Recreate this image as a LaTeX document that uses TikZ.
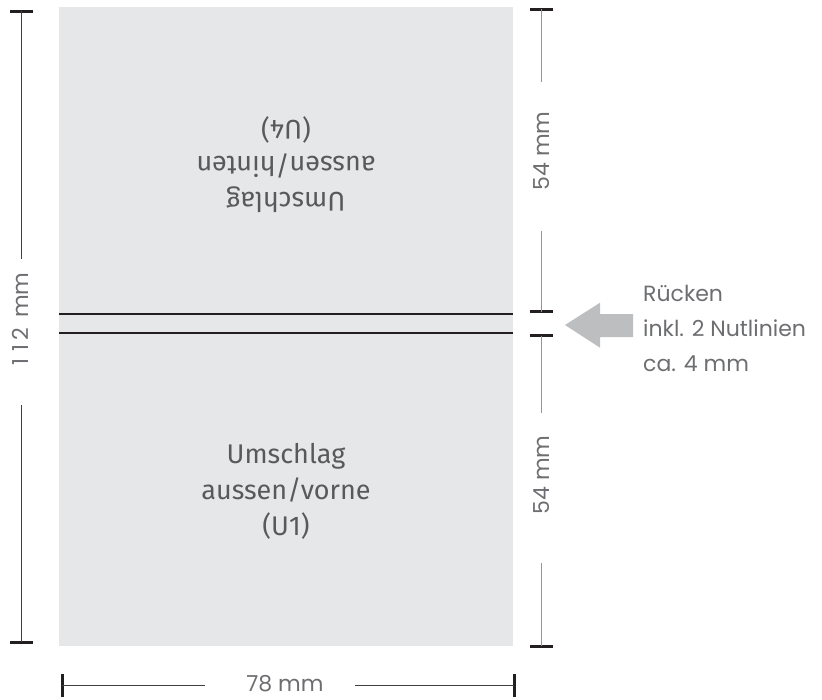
\documentclass[tikz,border=0pt]{standalone}
\usepackage{fontspec}
\setmainfont{Fira Sans}
\newfontfamily\geofont{Poppins}
\usetikzlibrary{positioning}
\definecolor{paper}{HTML}{E6E7E8}
\definecolor{inkblack}{HTML}{231F20}
\definecolor{darkline}{HTML}{414042}
\definecolor{lightline}{HTML}{939598}
\definecolor{bodygray}{HTML}{58595B}
\definecolor{labelgray}{HTML}{6D6E71}
\definecolor{arrowgray}{HTML}{BCBEC0}
\newcommand{\tabdigit}[1]{\makebox[14pt]{#1}}

\begin{document}
\begin{tikzpicture}[x=1pt, y=-1pt]
% Define styles
\tikzstyle{crease} = [draw=inkblack, line width=2pt]
\tikzstyle{tickmark} = [draw=inkblack, line width=3pt]
\tikzstyle{darkdim} = [draw=darkline, line width=1.2pt]
\tikzstyle{lightdim} = [draw=lightline, line width=1.2pt]
\tikzstyle{dimlabel} = [text=labelgray, font=\geofont\fontsize{22}{22}\selectfont, inner sep=0pt]
\tikzstyle{pagetext} = [text=bodygray, font=\fontsize{27}{36}\selectfont, align=center, inner sep=0pt]
\tikzstyle{sidelabel} = [text=labelgray, font=\geofont\fontsize{22}{35}\selectfont, align=left, inner sep=0pt]
\useasboundingbox (0,0) rectangle (822,699);
% Define cover with the two creases
\fill[paper] (59,7) rectangle (513,646);
\coordinate (CreaseAW) at (59,313.5); \coordinate (CreaseAE) at (513,313.5);
\coordinate (CreaseBW) at (59,332.5); \coordinate (CreaseBE) at (513,332.5);
\draw[crease] (CreaseAW) -- (CreaseAE);
\draw[crease] (CreaseBW) -- (CreaseBE);
% Define cover texts
\node[pagetext, rotate=180] (BackCover) at (286,165) {Umschlag\\aussen/hinten\\(U4)};
\node[pagetext] (FrontCover) at (286,491) {Umschlag\\aussen/vorne\\(U1)};
% Height (left)
\coordinate (HeightTop) at (21.5,11);
\coordinate (HeightBottom) at (21.5,642);
\coordinate (HeightGapA) at (21.5,259);
\coordinate (HeightGapB) at (21.5,405);
\node[dimlabel, rotate=90] (HeightLabel) at (20,321) {\tabdigit{1}\tabdigit{1}\tabdigit{2}\ \,mm};
\draw[tickmark] ([xshift=-11.5pt]HeightTop) -- ([xshift=11.5pt]HeightTop);
\draw[tickmark] ([xshift=-11.5pt]HeightBottom) -- ([xshift=11.5pt]HeightBottom);
\draw[darkdim] (HeightTop) -- (HeightGapA);
\draw[darkdim] (HeightGapB) -- (HeightBottom);
% Halves (right)
\coordinate (BackTop) at (541.5,9);
\coordinate (BackBottom) at (541.5,311.7);
\coordinate (FrontTop) at (541.5,335.7);
\coordinate (FrontBottom) at (541.5,646);
\coordinate (BackGapA) at (541.5,82);
\coordinate (BackGapB) at (541.5,231);
\coordinate (FrontGapA) at (541.5,413);
\coordinate (FrontGapB) at (541.5,563);
\node[dimlabel, rotate=90] (BackLabel) at (542,151) {54 mm};
\node[dimlabel, rotate=90] (FrontLabel) at (542,475) {54 mm};
\foreach \c in {BackTop, BackBottom, FrontTop, FrontBottom}
  \draw[tickmark] ([xshift=-11.5pt]\c) -- ([xshift=11.5pt]\c);
\draw[lightdim] (BackTop) -- (BackGapA);
\draw[lightdim] (BackGapB) -- (BackBottom);
\draw[lightdim] (FrontTop) -- (FrontGapA);
\draw[lightdim] (FrontGapB) -- (FrontBottom);
% Width (bottom)
\coordinate (WidthLeft) at (62,685);
\coordinate (WidthRight) at (514,685);
\coordinate (WidthGapA) at (205,685);
\coordinate (WidthGapB) at (355,685);
\node[dimlabel] (WidthLabel) at (285,684) {78 mm};
\draw[tickmark] ([yshift=-11.5pt]WidthLeft) -- ([yshift=11.5pt]WidthLeft);
\draw[tickmark] ([yshift=-11.5pt]WidthRight) -- ([yshift=11.5pt]WidthRight);
\draw[darkdim, line width=1pt] (WidthLeft) -- (WidthGapA);
\draw[darkdim, line width=1pt] (WidthGapB) -- (WidthRight);
% Spine note
\fill[arrowgray] (565,325) -- (600,302.7) -- (600,314) -- (633,314) -- (633,337)
  -- (600,337) -- (600,347.7) -- cycle;
\node[sidelabel, anchor=west] (SpineNote) at (643,328) {Rücken\\inkl. 2 Nutlinien\\ca. 4 mm};
\end{tikzpicture}
\end{document}
